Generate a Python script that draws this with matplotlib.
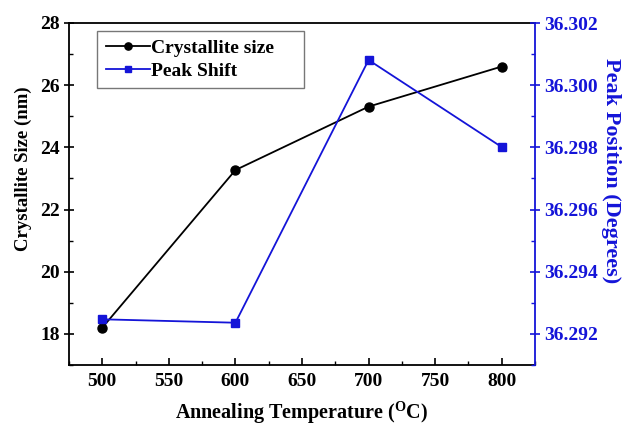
import matplotlib
matplotlib.use("Agg")
import matplotlib.pyplot as plt
from matplotlib.ticker import MultipleLocator

plt.rcParams['font.family'] = ['Liberation Serif', 'DejaVu Serif']
plt.rcParams['font.weight'] = 'bold'
plt.rcParams['mathtext.fontset'] = 'custom'
plt.rcParams['mathtext.rm'] = 'Liberation Serif:bold'
plt.rcParams['mathtext.bf'] = 'Liberation Serif:bold'

temperature = [500, 600, 700, 800]
crystallite_size = [18.2, 23.27, 25.31, 26.6]
peak_position = [36.29247, 36.29236, 36.30081, 36.29801]

xticks = [500, 550, 600, 650, 700, 750, 800]
left_ticks = [18, 20, 22, 24, 26, 28]
right_ticks = [36.292, 36.294, 36.296, 36.298, 36.300, 36.302]

fig = plt.figure(figsize=(6.28, 4.25), dpi=100)
ax = fig.add_axes([69/628, 1 - 365/425, (535-69)/628, (365-23)/425])
ax2 = ax.twinx()

blue = '#1414d8'
l1, = ax.plot(temperature, crystallite_size, color='black', marker='o', markersize=6.5,
              linewidth=1.3, label='Crystallite size')
l2, = ax2.plot(temperature, peak_position, color=blue, marker='s', markersize=6,
               linewidth=1.3, label='Peak Shift')

ax.set_xlim(475, 825)
ax.set_ylim(17, 28)
ax2.set_ylim(36.291, 36.302)

ax.set_xticks(xticks)
ax.xaxis.set_minor_locator(MultipleLocator(25))
ax.set_yticks(left_ticks)
ax.yaxis.set_minor_locator(MultipleLocator(1))
ax2.set_yticks(right_ticks)
ax2.set_yticklabels([f"{v:.3f}" for v in right_ticks])
ax2.yaxis.set_minor_locator(MultipleLocator(0.001))

ax.tick_params(axis='x', which='major', direction='in', length=5, width=1.2, labelsize=14, pad=6)
ax.tick_params(axis='x', which='minor', direction='in', length=3, width=1.0)
ax.tick_params(axis='y', which='major', direction='inout', length=7, width=1.2, labelsize=14, pad=3)
ax.tick_params(axis='y', which='minor', direction='in', length=3, width=1.0)
ax2.tick_params(axis='y', which='major', direction='inout', length=7, width=1.2, labelsize=14,
                colors=blue, pad=3)
ax2.tick_params(axis='y', which='minor', direction='in', length=3, width=1.0, colors=blue)

for s in ['left', 'bottom', 'top']:
    ax.spines[s].set_linewidth(1.3)
ax2.spines['right'].set_color(blue)
ax2.spines['right'].set_linewidth(1.3)
ax2.spines['left'].set_visible(False)
ax2.spines['top'].set_visible(False)
ax2.spines['bottom'].set_visible(False)
ax.spines['right'].set_visible(False)

ax.set_xlabel(r'Annealing Temperature ($^{\mathbf{O}}$C)', fontsize=14.5, fontweight='bold', labelpad=6)
ax.set_ylabel('Crystallite Size (nm)', fontsize=13.5, fontweight='bold')
ax.yaxis.set_label_coords(-0.079, 0.575)
ax2.set_ylabel('Peak Position (Degrees)', fontsize=16, fontweight='bold', color=blue,
               rotation=270, va='center')
ax2.yaxis.set_label_coords(1.163, 0.567)

leg = ax.legend(handles=[l1, l2], loc='upper left', bbox_to_anchor=(0.06, 0.5, 0.444, 0.477),
                mode='expand', borderaxespad=0, fontsize=14, frameon=True, fancybox=False,
                edgecolor='#555555', handlelength=2.3, handletextpad=0.05, borderpad=0.45,
                labelspacing=0.25, markerscale=0.8)
leg.get_frame().set_linewidth(1.0)

fig.savefig('out.png', dpi=100)
